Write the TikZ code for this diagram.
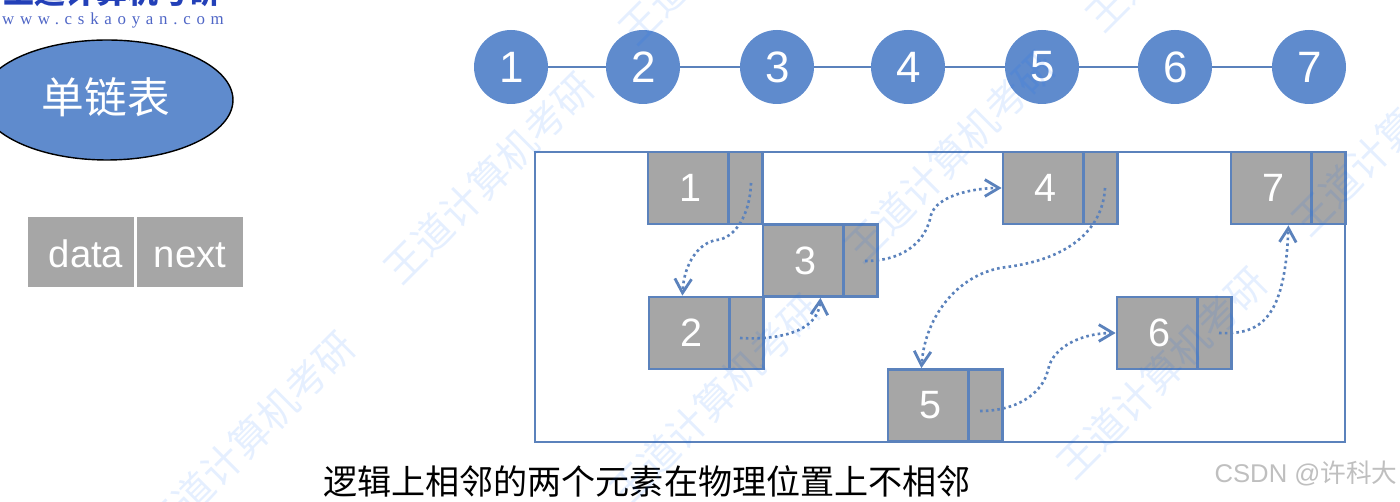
\documentclass[tikz,border=0pt]{standalone}
\usepackage{fontspec}
\setmainfont{Liberation Sans}
\newfontfamily\cjk{Noto Sans CJK SC}
\newfontfamily\logofont[LetterSpace=34]{Liberation Serif}
\usetikzlibrary{arrows.meta,positioning,calc,shapes.geometric}
\definecolor{nodeblue}{HTML}{5F8BCD}
\definecolor{edgeblue}{HTML}{5B82BC}
\definecolor{cellgray}{HTML}{A6A6A6}
\definecolor{logoblue}{HTML}{2340B8}
\tikzset{
  lnode/.style={circle,fill=nodeblue,minimum size=1.48cm,inner sep=0pt,text=white,font=\fontsize{25}{29}\selectfont,execute at begin node={\hskip 0.04cm}},
  lline/.style={edgeblue,line width=1.4pt},
  datacell/.style={draw=edgeblue,fill=cellgray,line width=1.6pt,minimum width=1.6cm,minimum height=1.44cm,inner sep=0pt,text=white,font=\fontsize{22.5}{26}\selectfont,execute at begin node={\hskip 0.08cm}},
  nextcell/.style={draw=edgeblue,fill=cellgray,line width=1.6pt,minimum width=0.68cm,minimum height=1.44cm,inner sep=0pt},
  legcell/.style={fill=cellgray,minimum width=2.12cm,minimum height=1.4cm,inner sep=0pt,text=white,text height=0.64cm,text depth=0pt,font=\fontsize{21.8}{25}\selectfont},
  linkarc/.style={edgeblue,line width=1.5pt,dash pattern=on 1.5pt off 1.8pt,-{Straight Barb[length=8pt,width=9.5pt,line width=1.6pt]}},
  wmark/.style={rotate=45,text=blue!60!cyan,opacity=0.1,font=\cjk\fontsize{22.5}{26}\selectfont}
}

\begin{document}
\begin{tikzpicture}[x=0.02cm,y=-0.02cm]
  \clip (0,0) rectangle (1400,502);
  \node[font=\cjk\bfseries\fontsize{17.6}{20}\selectfont,text=logoblue,inner sep=0pt] (logo) at (112,-8) {王道计算机考研};
  \node[font=\logofont\fontsize{9.6}{11}\selectfont,text=logoblue!80,inner sep=0pt] (url) at (113,20) {www.cskaoyan.com};

  \node[ellipse,draw=black,fill=nodeblue,line width=0.8pt,minimum width=5.04cm,minimum height=2.4cm,inner sep=0pt] (title) at (107,100) {};
  \node[text=white,font=\cjk\fontsize{24.3}{28}\selectfont,inner sep=0pt] (titletxt) at (106,97) {单链表};

  \node[legcell] (legdata) at (81,252) {\hskip 0.2cm data};
  \node[legcell] (legnext) at (190,252) {next};

  \node[lnode] (c1) at (511,67) {1};
  \node[lnode] (c2) at (643,67) {2};
  \node[lnode] (c3) at (777,67) {3};
  \node[lnode] (c4) at (908,67) {4};
  \node[lnode] (c5) at (1042,67) {5};
  \node[lnode] (c6) at (1175,67) {6};
  \node[lnode] (c7) at (1309,67) {7};
  \draw[lline] (c1)--(c2);
  \draw[lline] (c2)--(c3);
  \draw[lline] (c3)--(c4);
  \draw[lline] (c4)--(c5);
  \draw[lline] (c5)--(c6);
  \draw[lline] (c6)--(c7);

  \node[draw=edgeblue,line width=1.6pt,minimum width=16.2cm,minimum height=5.8cm,inner sep=0pt] (mem) at (940,297) {};

  \node[datacell] (d1) at (688,188) {1};
  \node[nextcell] (n1) at (745.5,188) {};
  \node[datacell] (d2) at (689,333) {2};
  \node[nextcell] (n2) at (746.5,333) {};
  \node[datacell] (d3) at (803,260.5) {3};
  \node[nextcell] (n3) at (860.5,260.5) {};
  \node[datacell] (d4) at (1043,188) {4};
  \node[nextcell] (n4) at (1100.5,188) {};
  \node[datacell] (d5) at (928,405.5) {5};
  \node[nextcell] (n5) at (985.5,405.5) {};
  \node[datacell] (d6) at (1157,333) {6};
  \node[nextcell] (n6) at (1214.5,333) {};
  \node[datacell] (d7) at (1271,188) {7};
  \node[nextcell] (n7) at (1328.5,188) {};

  \coordinate (s1) at (751,183);
  \coordinate (s2) at (740,338);
  \coordinate (s3) at (865,261);
  \coordinate (s4) at (1105,188);
  \coordinate (s5) at (980,411);
  \coordinate (s6) at (1219,333);
  \draw[linkarc] (s1) .. controls (750,215) and (735,238) .. (717,240) .. controls (700,242) and (684,262) .. (d2.100);
  \draw[linkarc] (s2) .. controls (770,340) and (818,335) .. (d3.-65);
  \draw[linkarc] (s3) .. controls (900,261) and (925,245) .. (931,215) .. controls (937,195) and (975,188) .. (d4.west);
  \draw[linkarc] (s4) .. controls (1103,225) and (1075,258) .. (1007,267) .. controls (960,272) and (925,315) .. (d5.100);
  \draw[linkarc] (s5) .. controls (1015,411) and (1042,395) .. (1048,370) .. controls (1053,345) and (1085,333) .. (d6.west);
  \draw[linkarc] (s6) .. controls (1260,335) and (1285,320) .. (d7.-65);

  \node[font=\cjk\fontsize{19.4}{23}\selectfont,inner sep=0pt] (caption) at (647,481) {逻辑上相邻的两个元素在物理位置上不相邻};
  \node[font=\fontsize{14.6}{17}\selectfont,text=black!25,inner sep=0pt] (csdn) at (1306,473) {CSDN @{\cjk 许科大}};

  \node[wmark] (w1) at (250,437) {王道计算机考研};
  \node[wmark] (w2) at (489,178) {王道计算机考研};
  \node[wmark] (w3) at (715,400) {王道计算机考研};
  \node[wmark] (w4) at (724,-61) {王道计算机考研};
  \node[wmark] (w5) at (950,157) {王道计算机考研};
  \node[wmark] (w6) at (1162,373) {王道计算机考研};
  \node[wmark] (w7) at (1191,-74) {王道计算机考研};
  \node[wmark] (w8) at (1397,130) {王道计算机考研};
\end{tikzpicture}
\end{document}
